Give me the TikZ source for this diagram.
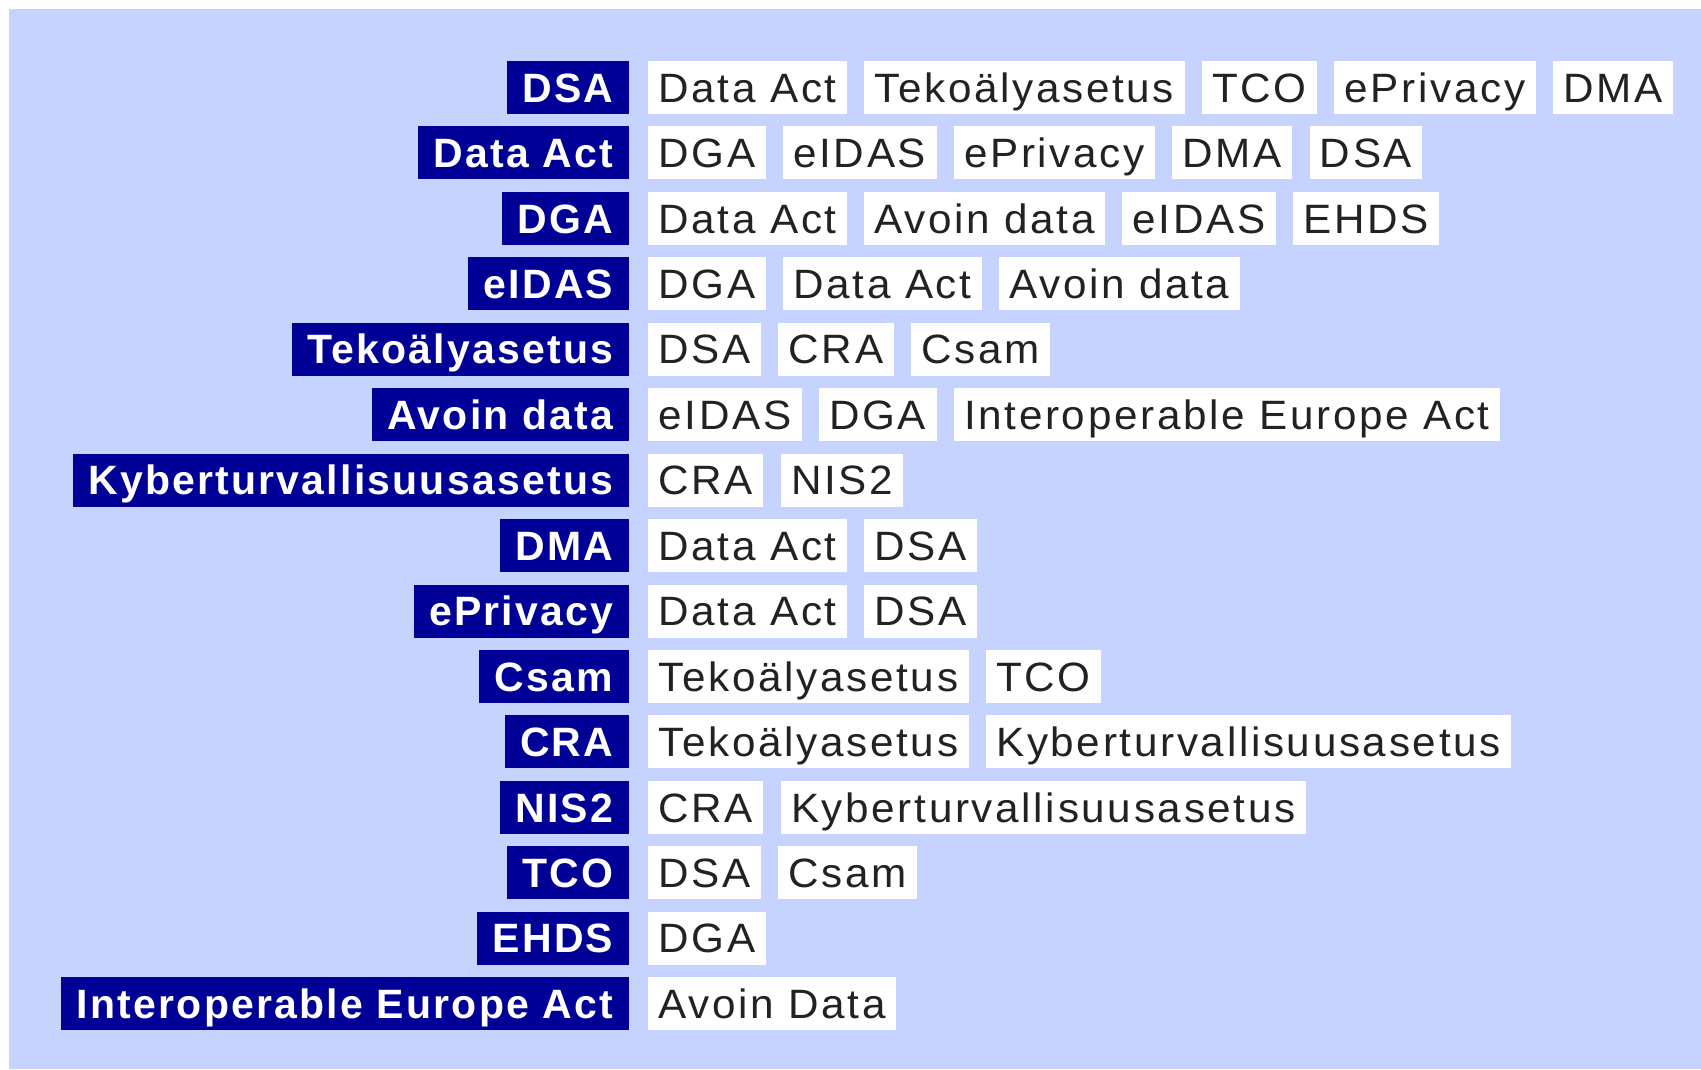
\documentclass[tikz,border=0pt]{standalone}
\usepackage{fontspec}
\setmainfont{Liberation Sans}
\newfontfamily\regfont{Liberation Sans}[LetterSpace=6.5,FakeStretch=1.03]
\newfontfamily\darkfont{Liberation Sans}[LetterSpace=5.4]
\usetikzlibrary{positioning}
\definecolor{bgblue}{HTML}{C7D3FF}
\definecolor{darkblue}{HTML}{000096}
\definecolor{txtgray}{HTML}{222222}
\tikzset{
  base/.style={rectangle, minimum height=53pt, inner ysep=0pt, text height=29.4pt, text depth=0pt, anchor=west},
  dbox/.style={base, fill=darkblue, text=white, inner xsep=15.5pt, anchor=east, font=\darkfont\bfseries\fontsize{41}{49}\selectfont},
  wbox/.style={base, fill=white, text=txtgray, inner xsep=10.4pt, font=\regfont\fontsize{41}{49}\selectfont},
  nx/.style={wbox, right=16.8pt of #1},
}
\begin{document}
\begin{tikzpicture}[x=1pt,y=1pt]
\useasboundingbox (0,0) rectangle (1701,-1069);
\fill[bgblue] (9,-9) rectangle (1701,-1069);
% row 1
\node[dbox] (d1) at (629,-87.5) {DSA};
\node[wbox] (w1a) at (648,-87.5) {Data Act};
\node[nx=w1a] (w1b) {Tekoälyasetus};
\node[nx=w1b] (w1c) {TCO};
\node[nx=w1c] (w1d) {ePrivacy};
\node[nx=w1d] (w1e) {DMA};
% row 2
\node[dbox] (d2) at (629,-152.94) {Data Act};
\node[wbox] (w2a) at (648,-152.94) {DGA};
\node[nx=w2a] (w2b) {eIDAS};
\node[nx=w2b] (w2c) {ePrivacy};
\node[nx=w2c] (w2d) {DMA};
\node[nx=w2d] (w2e) {DSA};
% row 3
\node[dbox] (d3) at (629,-218.38) {DGA};
\node[wbox] (w3a) at (648,-218.38) {Data Act};
\node[nx=w3a] (w3b) {Avoin data};
\node[nx=w3b] (w3c) {eIDAS};
\node[nx=w3c] (w3d) {EHDS};
% row 4
\node[dbox] (d4) at (629,-283.82) {eIDAS};
\node[wbox] (w4a) at (648,-283.82) {DGA};
\node[nx=w4a] (w4b) {Data Act};
\node[nx=w4b] (w4c) {Avoin data};
% row 5
\node[dbox] (d5) at (629,-349.26) {Tekoälyasetus};
\node[wbox] (w5a) at (648,-349.26) {DSA};
\node[nx=w5a] (w5b) {CRA};
\node[nx=w5b] (w5c) {Csam};
% row 6
\node[dbox] (d6) at (629,-414.7) {Avoin data};
\node[wbox] (w6a) at (648,-414.7) {eIDAS};
\node[nx=w6a] (w6b) {DGA};
\node[nx=w6b] (w6c) {Interoperable Europe Act};
% row 7
\node[dbox] (d7) at (629,-480.14) {Kyberturvallisuusasetus};
\node[wbox] (w7a) at (648,-480.14) {CRA};
\node[nx=w7a] (w7b) {NIS2};
% row 8
\node[dbox] (d8) at (629,-545.58) {DMA};
\node[wbox] (w8a) at (648,-545.58) {Data Act};
\node[nx=w8a] (w8b) {DSA};
% row 9
\node[dbox] (d9) at (629,-611.02) {ePrivacy};
\node[wbox] (w9a) at (648,-611.02) {Data Act};
\node[nx=w9a] (w9b) {DSA};
% row 10
\node[dbox] (d10) at (629,-676.46) {Csam};
\node[wbox] (w10a) at (648,-676.46) {Tekoälyasetus};
\node[nx=w10a] (w10b) {TCO};
% row 11
\node[dbox] (d11) at (629,-741.9) {CRA};
\node[wbox] (w11a) at (648,-741.9) {Tekoälyasetus};
\node[nx=w11a] (w11b) {Kyberturvallisuusasetus};
% row 12
\node[dbox] (d12) at (629,-807.34) {NIS2};
\node[wbox] (w12a) at (648,-807.34) {CRA};
\node[nx=w12a] (w12b) {Kyberturvallisuusasetus};
% row 13
\node[dbox] (d13) at (629,-872.78) {TCO};
\node[wbox] (w13a) at (648,-872.78) {DSA};
\node[nx=w13a] (w13b) {Csam};
% row 14
\node[dbox] (d14) at (629,-938.22) {EHDS};
\node[wbox] (w14a) at (648,-938.22) {DGA};
% row 15
\node[dbox] (d15) at (629,-1003.66) {Interoperable Europe Act};
\node[wbox] (w15a) at (648,-1003.66) {Avoin Data};
\end{tikzpicture}
\end{document}
